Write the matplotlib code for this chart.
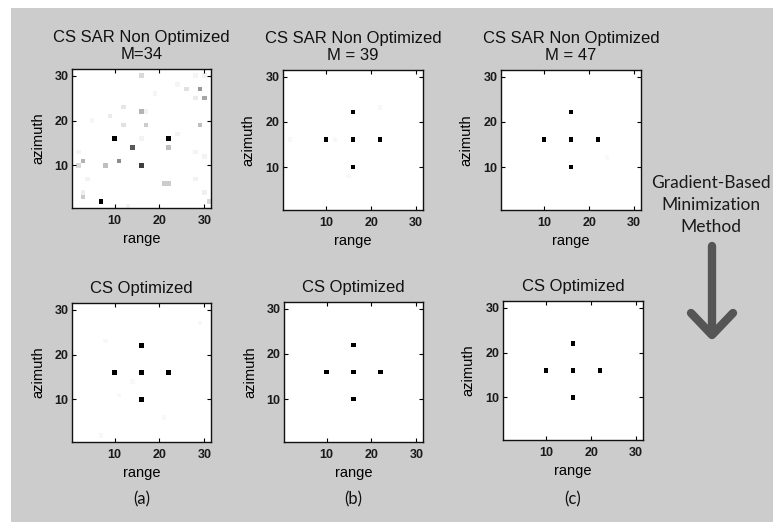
import numpy as np
import matplotlib.pyplot as plt
from matplotlib.lines import Line2D
from matplotlib.patches import Rectangle

W, H = 773, 522
N = 31

# ---------------- data ----------------
# five point targets (range, azimuth)
target_x = [10, 16, 22, 16, 16]
target_y = [16, 16, 16, 22, 10]

# (a) non optimized, M=34: reconstructed intensities (0 = white, 1 = black)
a_top_x = [10, 22, 16, 16, 16, 14, 7, 11, 8, 3, 2, 22, 17, 12, 12, 16, 29, 30, 26, 29, 28,
           21, 22, 3, 3, 31, 30, 9, 17, 30, 28, 28, 30, 28, 24, 24, 4, 2, 13, 5, 19]
a_top_y = [16, 16, 10, 22, 16, 14, 2, 11, 10, 11, 10, 14, 19, 19, 23, 30, 27, 25, 27, 19, 25,
           6, 6, 3, 4, 2, 4, 21, 22, 12, 13, 7, 30, 30, 28, 17, 7, 13, 1, 20, 26]
a_top_v = [1.0, 1.0, 0.75, 0.3, 0.05, 0.65, 1.0, 0.45, 0.25, 0.3, 0.15, 0.25, 0.2, 0.12, 0.1,
           0.15, 0.4, 0.35, 0.12, 0.25, 0.08, 0.2, 0.2, 0.2, 0.07, 0.15, 0.06, 0.08, 0.05,
           0.05, 0.05, 0.05, 0.05, 0.04, 0.04, 0.05, 0.05, 0.05, 0.05, 0.04, 0.04]

# faint residuals in the other panels
b_top_x, b_top_y, b_top_v = [22, 2, 12, 15], [23, 16, 16, 8], [0.03, 0.03, 0.03, 0.03]
c_top_x, c_top_y, c_top_v = [24], [12], [0.02]
a_bot_x, a_bot_y, a_bot_v = [8, 29, 14, 11, 21, 7], [23, 27, 14, 11, 6, 2], [0.03] * 6
b_bot_x, b_bot_y, b_bot_v = [], [], []
c_bot_x, c_bot_y, c_bot_v = [], [], []

top_titles = ['CS SAR Non Optimized\nM=34', 'CS SAR Non Optimized\nM = 39',
              'CS SAR Non Optimized\nM = 47']
bot_title = 'CS Optimized'
captions = ['(a)', '(b)', '(c)']
ticks = [10, 20, 30]


def make_img(xs, ys, vs, with_targets=True):
    img = np.zeros((N, N))
    if with_targets:
        for x, y in zip(target_x, target_y):
            img[y - 1, x - 1] = 1.0
    for x, y, v in zip(xs, ys, vs):
        img[y - 1, x - 1] = max(img[y - 1, x - 1], v) if with_targets else v
    return img


imgs_top = [make_img(a_top_x, a_top_y, a_top_v, with_targets=False),
            make_img(b_top_x, b_top_y, b_top_v),
            make_img(c_top_x, c_top_y, c_top_v)]
imgs_bot = [make_img(a_bot_x, a_bot_y, a_bot_v),
            make_img(b_bot_x, b_bot_y, b_bot_v),
            make_img(c_bot_x, c_bot_y, c_bot_v)]

# ---------------- figure ----------------
plt.rcParams['font.family'] = ['Liberation Sans', 'DejaVu Sans']
fig = plt.figure(figsize=(W / 100, H / 100), dpi=100, facecolor='white')
fig.add_artist(Rectangle((11 / W, 0), 1 - 11 / W, 1 - 8 / H, transform=fig.transFigure,
                         facecolor='#cccccc', edgecolor='none', zorder=0))


def ax_at(x0, y0, x1, y1):
    return fig.add_axes([x0 / W, 1 - y1 / H, (x1 - x0) / W, (y1 - y0) / H])


top_boxes = [(72, 69, 211, 208), (283, 70, 423, 210), (501, 70, 641, 210)]
bot_boxes = [(72, 303, 211, 442), (284, 302, 423, 442), (503, 301, 643, 440)]


def draw_panel(box, img, title):
    ax = ax_at(*box)
    ax.imshow(img, cmap='gray_r', vmin=0, vmax=1, origin='lower',
              extent=[0.5, N + 0.5, 0.5, N + 0.5], interpolation='nearest', aspect='auto')
    ax.set_xticks(ticks)
    ax.set_yticks(ticks)
    ax.tick_params(direction='in', length=3, width=0.8, top=True, right=True,
                   labelsize=9, labelcolor='#1a1a1a')
    ax.tick_params(axis='x', pad=5)
    ax.tick_params(axis='y', pad=2.5)
    for lab in ax.get_xticklabels() + ax.get_yticklabels():
        lab.set_fontweight('bold')
    for s in ax.spines.values():
        s.set_linewidth(1.0)
        s.set_color('#111111')
    ax.set_xlabel('range', fontsize=10.5, va='center')
    ax.set_ylabel('azimuth', fontsize=10.5, va='center')
    ax.xaxis.set_label_coords(0.5, -31 / 139)
    ax.yaxis.set_label_coords(-34 / 139, 0.5)
    ax.set_title(title, fontsize=12, pad=7.5, linespacing=1.15, color='#111111')
    return ax


for box, img, t in zip(top_boxes, imgs_top, top_titles):
    draw_panel(box, img, t)
for box, img in zip(bot_boxes, imgs_bot):
    draw_panel(box, img, bot_title)

# captions under columns
for box, c in zip(bot_boxes, captions):
    cx = (box[0] + box[2]) / 2
    fig.text(cx / W, 1 - 499 / H, c, ha='center', va='center', fontsize=12,
             family=['Lato', 'DejaVu Sans'], color='#111111')

# side annotation
fig.text(711 / W, 1 - 205 / H, 'Gradient-Based\nMinimization\nMethod', ha='center',
         va='center', fontsize=12.5, family=['Lato', 'DejaVu Sans'],
         color='#1a1a1a', linespacing=1.45)

arrow_col = '#555555'
fig.add_artist(Line2D([712 / W, 712 / W], [1 - 246 / H, 1 - 334 / H], transform=fig.transFigure,
                      color=arrow_col, lw=6, solid_capstyle='round'))
fig.add_artist(Line2D([691 / W, 712 / W, 733 / W], [1 - 313 / H, 1 - 335 / H, 1 - 313 / H],
                      transform=fig.transFigure, color=arrow_col, lw=6,
                      solid_capstyle='round', solid_joinstyle='round'))

fig.savefig('out.png', dpi=100, facecolor=fig.get_facecolor())
